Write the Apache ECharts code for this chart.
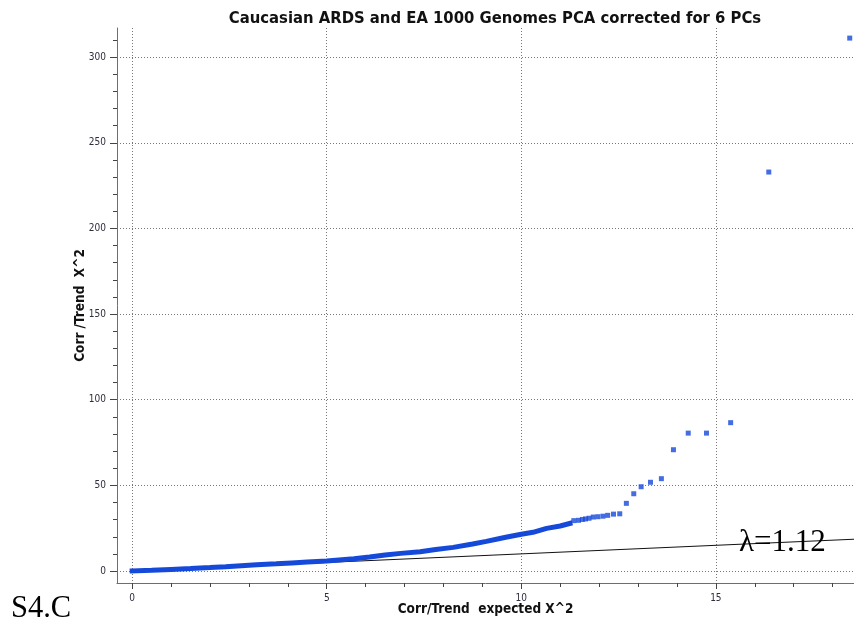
<!DOCTYPE html>
<html>
<head>
<meta charset="utf-8">
<script src="https://cdn.jsdelivr.net/npm/echarts@6/dist/echarts.min.js"></script>
<style>
  html, body { margin: 0; padding: 0; background: #fff; }
  #chart { width: 854px; height: 624px; }
</style>
</head>
<body>
<div id="chart"></div>
<script>
// Dense body of the QQ curve (expected vs observed chi-square)
const curveExpected = [0, 0.5, 1.0, 1.5, 2.0, 2.4, 2.8, 3.2, 3.7, 4.1, 4.5, 5.0, 5.7, 6.1, 6.5, 6.9, 7.4, 7.8, 8.25, 8.75, 9.1, 9.45, 9.6, 10.0, 10.3, 10.65, 11.0, 11.25];
const curveObserved = [0, 0.4, 0.9, 1.4, 2.0, 2.5, 3.1, 3.7, 4.2, 4.7, 5.2, 5.8, 7.2, 8.2, 9.3, 10.3, 11.3, 12.6, 13.8, 15.8, 17.3, 19.0, 19.7, 21.5, 22.6, 24.9, 26.3, 27.8];

// Sparse upper tail of the QQ points
const tailExpected = [11.35, 11.47, 11.57, 11.65, 11.74, 11.85, 11.97, 12.10, 12.22, 12.37, 12.53, 12.70, 12.89, 13.08, 13.32, 13.60, 13.91, 14.29, 14.76, 15.38, 16.36, 18.44];
const tailObserved = [29.4, 29.6, 30.1, 30.4, 30.8, 31.5, 31.7, 32.0, 32.5, 33.2, 33.4, 39.5, 45.1, 49.2, 51.8, 53.9, 70.8, 80.5, 80.5, 86.6, 232.9, 311.1];

// Null expectation line y = x
const nullLine = [0, 18.55];

// Axis ranges and tick labels
const xRange = [-0.39, 18.55];
const yRange = [-7, 317];
const xMajor = [0, 5, 10, 15];
const xMinor = [1, 2, 3, 4, 6, 7, 8, 9, 11, 12, 13, 14, 16, 17, 18];
const yMajor = [0, 50, 100, 150, 200, 250, 300];
const yMinor = [10, 20, 30, 40, 60, 70, 80, 90, 110, 120, 130, 140, 160, 170, 180, 190, 210, 220, 230, 240, 260, 270, 280, 290, 310];

const lambdaText = 'λ=1.12';
const panelText = 'S4.C';

const pair = (xs, ys) => xs.map((x, i) => [x, ys[i]]);

const sansCond = '"DejaVu Sans Condensed", "DejaVu Sans", sans-serif';
const labelColor = '#2e2e3e';
const axisGray = '#6e6e6e';
const blue = '#1549da';

const chart = echarts.init(document.getElementById('chart'), null, { renderer: 'canvas' });

function xAxisDef(major) {
  return {
    type: 'value', position: 'bottom',
    min: xRange[0], max: xRange[1],
    axisLine: { show: major, onZero: false, lineStyle: { color: axisGray, width: 1 } },
    axisTick: { show: true, customValues: major ? xMajor : xMinor, length: major ? 6 : 4, lineStyle: { color: '#444' } },
    axisLabel: major ? { customValues: xMajor, color: labelColor, fontSize: 10, fontFamily: sansCond, margin: 10 } : { show: false },
    splitLine: major ? { show: true, lineStyle: { color: '#777', type: [1, 2], width: 1 } } : { show: false },
    name: major ? 'Corr/Trend  expected X^2' : '',
    nameLocation: 'middle', nameGap: 19, nameMoveOverlap: false,
    nameTextStyle: { fontFamily: sansCond, fontWeight: 'bold', fontSize: 13.5, color: '#111' }
  };
}

function yAxisDef(major) {
  return {
    type: 'value', position: 'left',
    min: yRange[0], max: yRange[1],
    axisLine: { show: major, onZero: false, lineStyle: { color: axisGray, width: 1 } },
    axisTick: { show: true, customValues: major ? yMajor : yMinor, length: major ? 7 : 4, lineStyle: { color: '#444' } },
    axisLabel: major ? { customValues: yMajor, color: labelColor, fontSize: 10, fontFamily: sansCond, margin: 11 } : { show: false },
    splitLine: major ? { show: true, lineStyle: { color: '#777', type: [1, 2], width: 1 } } : { show: false },
    name: major ? 'Corr /Trend  X^2' : '',
    nameLocation: 'middle', nameGap: 30, nameMoveOverlap: false,
    nameTextStyle: { fontFamily: sansCond, fontWeight: 'bold', fontSize: 13.5, color: '#111' }
  };
}

chart.setOption({
  animation: false,
  backgroundColor: '#fff',
  title: {
    text: 'Caucasian ARDS and EA 1000 Genomes PCA corrected for 6 PCs',
    left: 490, top: 5, textAlign: 'center',
    textStyle: { fontFamily: sansCond, fontWeight: 'bold', fontSize: 16.5, color: '#111' }
  },
  grid: { left: 117, right: 0, top: 28, bottom: 41, containLabel: false },
  xAxis: [xAxisDef(true), xAxisDef(false)],
  yAxis: [yAxisDef(true), yAxisDef(false)],
  series: [
    {
      type: 'line', name: 'null',
      data: pair(nullLine, nullLine),
      symbol: 'none', silent: true,
      lineStyle: { color: '#111', width: 1 }, z: 2
    },
    {
      type: 'line', name: 'observed',
      data: pair(curveExpected, curveObserved),
      symbol: 'none', silent: true,
      lineStyle: { color: blue, width: 5, cap: 'square' }, z: 3
    },
    {
      type: 'scatter', name: 'tail',
      data: pair(tailExpected, tailObserved),
      symbol: 'rect', symbolSize: 5, silent: true,
      itemStyle: { color: blue }, z: 4
    }
  ],
  graphic: [
    {
      type: 'text', left: 739, top: 527, z: 10,
      style: { text: lambdaText, font: '31px "Liberation Serif", "Times New Roman", serif', fill: '#000' }
    },
    {
      type: 'text', left: 11, top: 593, z: 10,
      style: { text: panelText, font: '30.5px "Liberation Serif", "Times New Roman", serif', fill: '#000' }
    }
  ]
});
</script>
</body>
</html>
